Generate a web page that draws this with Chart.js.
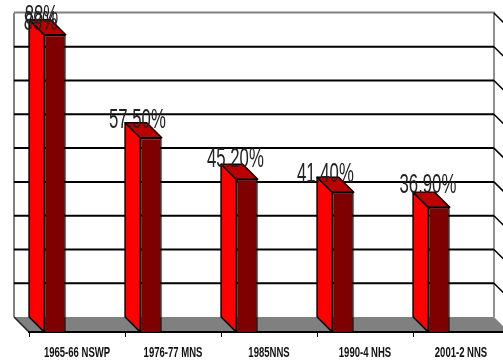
<!DOCTYPE html>
<html>
<head>
<meta charset="utf-8">
<title>Chart</title>
<script src="https://cdn.jsdelivr.net/npm/chart.js@4"></script>
<style>
  html, body { margin: 0; padding: 0; background: #fff; overflow: hidden; }
  #wrap { width: 503px; height: 361px; overflow: hidden; }
  canvas { display: block; }
</style>
</head>
<body>
<div id="wrap"><canvas id="surveyChart" width="520" height="361"></canvas></div>
<script>
const categories = ['1965-66 NSWP', '1976-77 MNS', '1985NNS', '1990-4 NHS', '2001-2 NNS'];
const values = [88, 57.5, 45.2, 41.4, 36.9];
const valueLabels = ['88%', '57.50%', '45.20%', '41.40%', '36.90%'];
const yTicks = [0, 10, 20, 30, 40, 50, 60, 70, 80, 90];

const depth = 15;
// hand placement of the value text around each bar top
const labelNudge = [[0, 0], [0, 1], [2, -1], [-4, 1], [2.5, -3]];

// narrow text, the installed Arial-metric font squeezed horizontally
function squeezedText(ctx, text, x, y, font, color, squeeze) {
  ctx.save();
  ctx.font = font;
  ctx.fillStyle = color;
  ctx.textAlign = 'center';
  ctx.textBaseline = 'alphabetic';
  ctx.translate(x, y);
  ctx.scale(squeeze, 1);
  ctx.fillText(text, 0, 0);
  ctx.restore();
}

function poly(ctx, pts, fill, stroke, width) {
  ctx.beginPath();
  pts.forEach((p, i) => i ? ctx.lineTo(p[0], p[1]) : ctx.moveTo(p[0], p[1]));
  ctx.closePath();
  if (fill) { ctx.fillStyle = fill; ctx.fill(); }
  if (stroke) { ctx.strokeStyle = stroke; ctx.lineWidth = width; ctx.stroke(); }
}

function line(ctx, x1, y1, x2, y2, color, width) {
  ctx.beginPath();
  ctx.moveTo(x1, y1);
  ctx.lineTo(x2, y2);
  ctx.strokeStyle = color;
  ctx.lineWidth = width;
  ctx.stroke();
}

// back wall, floor and the gridlines set back by the chart depth
const wallPlugin = {
  id: 'wall',
  beforeDraw(chart) {
    const { ctx, chartArea: a, scales: { y } } = chart;
    const left = a.left - depth, right = a.right - depth;
    const floorY = a.bottom - depth, topY = a.top - depth;
    ctx.save();
    poly(ctx, [[left, floorY], [right, floorY], [a.right, a.bottom], [a.left, a.bottom]], '#808080');
    line(ctx, left, floorY, a.left, a.bottom, '#222', 1.5);
    line(ctx, left, topY - 0.5, right + 1, topY - 0.5, '#808080', 2);
    line(ctx, left, topY, left, floorY, '#808080', 2);
    line(ctx, right, topY, right, floorY, '#909090', 2);
    y.ticks.forEach(t => {
      if (t.value === 0 || t.value === y.max) return;
      const py = y.getPixelForValue(t.value) - depth;
      line(ctx, left, py, right, py, '#000', 2);
    });
    y.ticks.forEach(t => {
      if (t.value === 0) return;
      const py = y.getPixelForValue(t.value) - depth;
      line(ctx, right, py, a.right, py + depth, '#000', 1.5);
    });
    ctx.restore();
  }
};

// side and top faces of each bar, then the value text and the category names
const bar3dPlugin = {
  id: 'bar3d',
  afterDatasetsDraw(chart) {
    const { ctx, scales: { x } } = chart;
    ctx.save();
    ctx.lineJoin = 'round';
    chart.getDatasetMeta(0).data.forEach(bar => {
      const l = bar.x - bar.width / 2, r = bar.x + bar.width / 2;
      poly(ctx, [[l, bar.y], [l - depth, bar.y - depth], [l - depth, bar.base - depth], [l, bar.base]], '#ff0000', '#000', 1.5);
      poly(ctx, [[l, bar.y], [r, bar.y], [r - depth, bar.y - depth], [l - depth, bar.y - depth]], '#bb0000', '#000', 1.5);
    });
    chart.getDatasetMeta(0).data.forEach((bar, i) => {
      const cx = bar.x - depth + 1.5 + labelNudge[i][0];
      const by = bar.y - depth + 4 + labelNudge[i][1];
      squeezedText(ctx, valueLabels[i], cx, by, '27px "Liberation Sans"', '#222', 0.62);
      if (i === 0) squeezedText(ctx, valueLabels[i], cx - 1, by + 6, '27px "Liberation Sans"', '#222', 0.62);
    });
    categories.forEach((name, i) => {
      squeezedText(ctx, name, x.getPixelForTick(i), 357, 'bold 15px "Liberation Sans"', '#111', 0.635);
    });
    ctx.restore();
  }
};

new Chart(document.getElementById('surveyChart'), {
  type: 'bar',
  data: {
    labels: categories,
    datasets: [
      { data: values, backgroundColor: '#7f0000', borderColor: '#000', borderWidth: 1.5 },
      // empty slot so the bars sit toward the front left of each category
      { data: [], backgroundColor: 'transparent' }
    ]
  },
  options: {
    responsive: false,
    animation: false,
    categoryPercentage: 0.92,
    barPercentage: 0.49,
    layout: { padding: { left: 29, right: 11, top: 28, bottom: 0 } },
    plugins: { legend: { display: false }, tooltip: { enabled: false } },
    scales: {
      x: {
        offset: true,
        afterFit(scale) { scale.height = 29; },
        border: { color: '#000', width: 2 },
        grid: { drawOnChartArea: false, drawTicks: true, tickLength: 5, color: '#000', lineWidth: 1, offset: true },
        ticks: { display: false }
      },
      y: {
        display: false,
        min: yTicks[0],
        max: yTicks[yTicks.length - 1],
        afterBuildTicks(scale) { scale.ticks = yTicks.map(value => ({ value })); }
      }
    }
  },
  plugins: [wallPlugin, bar3dPlugin]
});
</script>
</body>
</html>
